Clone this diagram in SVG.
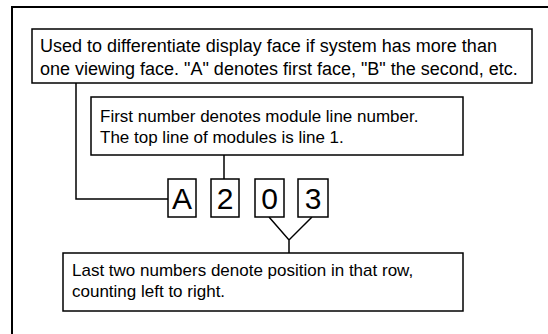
<svg xmlns="http://www.w3.org/2000/svg" width="548" height="334" viewBox="0 0 548 334">
<style>
.box{fill:#fff;stroke:#000;stroke-width:1.5}
.t{font-family:"Liberation Sans",Arial,sans-serif;font-size:17px;fill:#000}
.t1{font-size:18px}
.d{font-family:"Liberation Sans",Arial,sans-serif;font-size:30px;fill:#000;text-anchor:middle}
.c{fill:none;stroke:#000;stroke-width:1.5}
.frame{fill:none;stroke:#000;stroke-width:2}
</style>
<rect width="548" height="334" fill="#fff"/>
<path class="frame" d="M12,334 V7 H548"/>
<g id="connectors">
<path class="c" d="M76,83 V199 H168"/>
<path class="c" d="M224,155 V179"/>
<path class="c" d="M269,217 L289,240 L312,217 M289,240 V253"/>
</g>
<g id="note-face">
<rect class="box" x="32" y="29" width="500" height="54"/>
<text class="t t1" x="40" y="52">Used to differentiate display face if system has more than</text>
<text class="t t1" x="40" y="75">one viewing face. "A" denotes first face, "B" the second, etc.</text>
</g>
<g id="note-line">
<rect class="box" x="91" y="97" width="372" height="58"/>
<text class="t" x="100" y="122">First number denotes module line number.</text>
<text class="t" x="100" y="143">The top line of modules is line 1.</text>
</g>
<g id="digit-A">
<rect class="box" x="168" y="179" width="28" height="38"/>
<text class="d" x="182" y="209">A</text>
</g>
<g id="digit-2">
<rect class="box" x="211" y="179" width="28" height="38"/>
<text class="d" x="225" y="209">2</text>
</g>
<g id="digit-0">
<rect class="box" x="255" y="179" width="29" height="38"/>
<text class="d" x="269.5" y="209">0</text>
</g>
<g id="digit-3">
<rect class="box" x="298" y="179" width="30" height="38"/>
<text class="d" x="313" y="209">3</text>
</g>
<g id="note-position">
<rect class="box" x="63" y="253" width="400" height="58"/>
<text class="t" x="72" y="276">Last two numbers denote position in that row,</text>
<text class="t" x="72" y="297">counting left to right.</text>
</g>
</svg>
